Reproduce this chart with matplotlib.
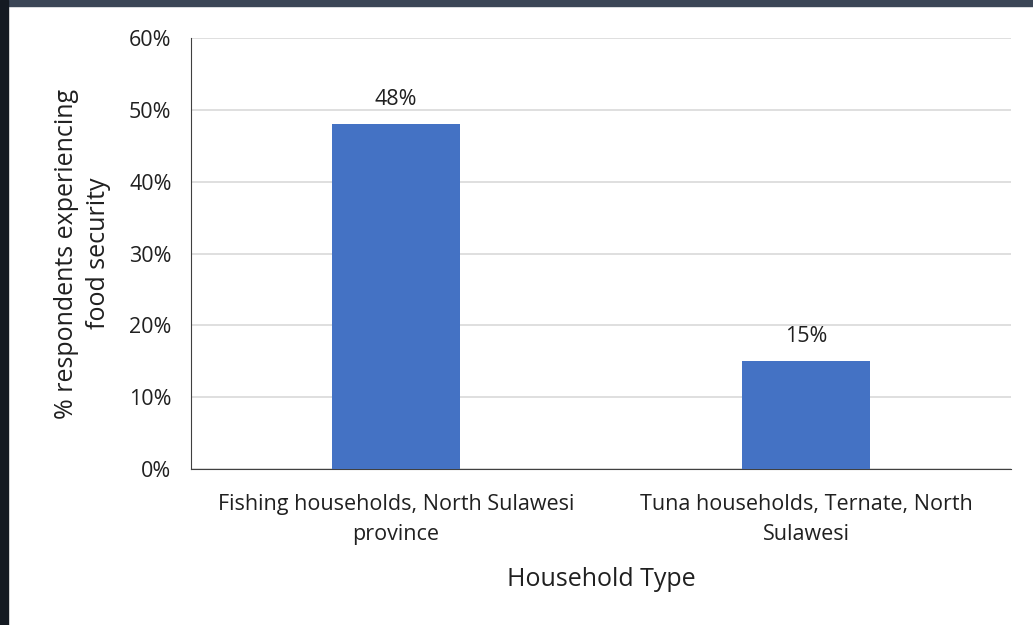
import matplotlib
matplotlib.use("Agg")
import matplotlib.pyplot as plt
from matplotlib.patches import Rectangle
from matplotlib.ticker import PercentFormatter

categories = ["Fishing households, North Sulawesi\nprovince",
              "Tuna households, Ternate, North\nSulawesi"]
values = [48, 15]
yticks = [0, 10, 20, 30, 40, 50, 60]

plt.rcParams.update({"font.family": ["Open Sans", "DejaVu Sans"], "font.size": 16})

fig = plt.figure(figsize=(10.33, 6.25), dpi=100)
# screenshot edges (dark frame at top and left)
fig.patches.append(Rectangle((0, 1 - 6 / 625), 1, 6 / 625, transform=fig.transFigure,
                             color="#3b4656", zorder=0))
fig.patches.append(Rectangle((0, 0), 8 / 1033, 1, transform=fig.transFigure,
                             color="#141a22", zorder=0))

ax = fig.add_axes([191 / 1033, 1 - 469 / 625, 820 / 1033, 431 / 625])
x = range(len(categories))
ax.bar(x, values, width=0.31, color="#4472c4", zorder=3)
for xi, v in zip(x, values):
    ax.text(xi, v + 2.0, f"{v}%", ha="center", va="bottom", fontsize=15.5, color="#202020")

ax.set_xlim(-0.5, 1.5)
ax.set_ylim(0, 60)
ax.set_yticks(yticks)
ax.yaxis.set_major_formatter(PercentFormatter(decimals=0))
ax.set_xticks(list(x))
ax.set_xticklabels(categories, fontsize=15.5, linespacing=1.55)
ax.tick_params(length=0, pad=14, colors="#202020", labelsize=15.5)
ax.tick_params(axis="x", pad=18)
ax.grid(axis="y", color="#d9d9d9", lw=1.2, zorder=0)
for s in ["top", "right"]:
    ax.spines[s].set_visible(False)
ax.spines["left"].set_color("#404040")
ax.spines["bottom"].set_color("#404040")

ax.set_ylabel("% respondents experiencing\nfood security", fontsize=18, labelpad=13,
              linespacing=1.35, color="#202020")
ax.set_xlabel("Household Type", fontsize=18, labelpad=16, color="#202020")

fig.savefig("out.png", dpi=100)
